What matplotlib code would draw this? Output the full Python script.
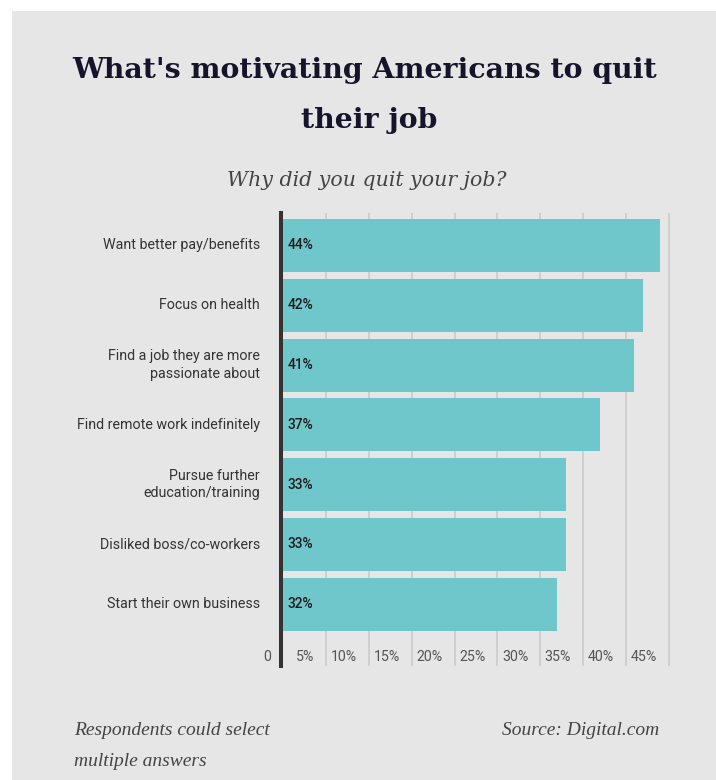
import matplotlib
matplotlib.use("Agg")
import matplotlib.pyplot as plt
from matplotlib.patches import Rectangle
from matplotlib.transforms import offset_copy

# --- data -------------------------------------------------------------
categories = [
    "Want better pay/benefits",
    "Focus on health",
    "Find a job they are more\npassionate about",
    "Find remote work indefinitely",
    "Pursue further\neducation/training",
    "Disliked boss/co-workers",
    "Start their own business",
]
shares = [44, 42, 41, 37, 33, 33, 32]
tick_values = [0, 5, 10, 15, 20, 25, 30, 35, 40, 45]
tick_labels = ["0", "5%", "10%", "15%", "20%", "25%", "30%", "35%", "40%", "45%"]

title_lines = ["What's motivating Americans to quit", "their job"]
subtitle = "Why did you quit your job?"
note_lines = ["Respondents could select", "multiple answers"]
source = "Source: Digital.com"

# --- style ------------------------------------------------------------
W, H, DPI = 716, 780, 100
PANEL = "#e6e6e6"
BAR = "#6fc7cb"
GRID = "#c9c9c9"
AXIS = "#333333"
LABEL = "#333333"
SANS = ["Roboto", "DejaVu Sans"]
SERIF = ["DejaVu Serif"]
FOOT = ["Liberation Serif", "DejaVu Serif"]

fig = plt.figure(figsize=(W / DPI, H / DPI), dpi=DPI, facecolor="white")


def fx(x):
    return x / W


def fy(y):
    return 1 - y / H


# grey card behind everything
fig.patches.append(Rectangle((fx(12), 0), 1 - fx(12), fy(11), transform=fig.transFigure,
                             facecolor=PANEL, edgecolor="none", zorder=-10))

# plot area (pixel geometry of the card layout)
x0_px, px_per_unit = 283.4, 8.56
xmax = 46
top_px, bot_px = 213, 666
ax = fig.add_axes([fx(x0_px), fy(bot_px), xmax * px_per_unit / W, (bot_px - top_px) / H])
ax.set_zorder(1)
ax.patch.set_visible(False)
for s in ax.spines.values():
    s.set_visible(False)

n = len(categories)
pitch_px = 59.8
y_top = -(245.5 - top_px) / pitch_px
y_bot = (n - 1) + (bot_px - 604.3) / pitch_px
ax.set_xlim(0, xmax)
ax.set_ylim(y_bot, y_top)

ax.set_xticks(tick_values[1:])
ax.set_yticks([])
ax.tick_params(axis="x", length=0, labelbottom=False)
ax.grid(axis="x", color=GRID, linewidth=1.1)
ax.set_axisbelow(True)

ypos = list(range(n))
ax.barh(ypos, shares, height=0.886, color=BAR, zorder=2)

# zero axis
ax.axvline(-2.4 / px_per_unit, color=AXIS, linewidth=2.9, zorder=3, clip_on=False)

# value labels inside the bars
for y, v in zip(ypos, shares):
    ax.text(0.45, y, f"{v}%", ha="left", va="center", fontsize=9.9,
            fontweight="medium", family=SANS, color="#1c1c1c", zorder=4)

# category labels to the left of the axis
cat_tr = offset_copy(ax.transData, fig=fig, x=-23.4, y=0, units="dots")
for y, c in zip(ypos, categories):
    ax.text(0, y, c, transform=cat_tr, ha="right", va="center", fontsize=10.3,
            family=SANS, color=LABEL, linespacing=1.3, clip_on=False)

# tick labels sit just left of each gridline
tick_tr = offset_copy(ax.transData, fig=fig, x=-12, y=0, units="dots")
tick_y = (n - 1) + (657 - 604.3) / pitch_px
for v, t in zip(tick_values, tick_labels):
    ax.text(v, tick_y, t, transform=tick_tr, ha="right", va="center", fontsize=10.2,
            family=SANS, color="#555555", clip_on=False)

# headings
fig.text(fx(365), fy(78), title_lines[0], ha="center", va="baseline", fontsize=20.4,
         fontweight="bold", family=SERIF, color="#16142a")
fig.text(fx(369), fy(128), title_lines[1], ha="center", va="baseline", fontsize=20.4,
         fontweight="bold", family=SERIF, color="#16142a")
fig.text(fx(367), fy(186), subtitle, ha="center", va="baseline", fontsize=14.8,
         style="italic", family=SERIF, color="#444444")

# footer
fig.text(fx(74), fy(735), note_lines[0], ha="left", va="baseline", fontsize=14,
         style="italic", family=FOOT, color="#444444")
fig.text(fx(74), fy(766), note_lines[1], ha="left", va="baseline", fontsize=14,
         style="italic", family=FOOT, color="#444444")
fig.text(fx(659), fy(735), source, ha="right", va="baseline", fontsize=14,
         style="italic", family=FOOT, color="#444444")

fig.savefig("out.png", dpi=DPI, facecolor="white")
